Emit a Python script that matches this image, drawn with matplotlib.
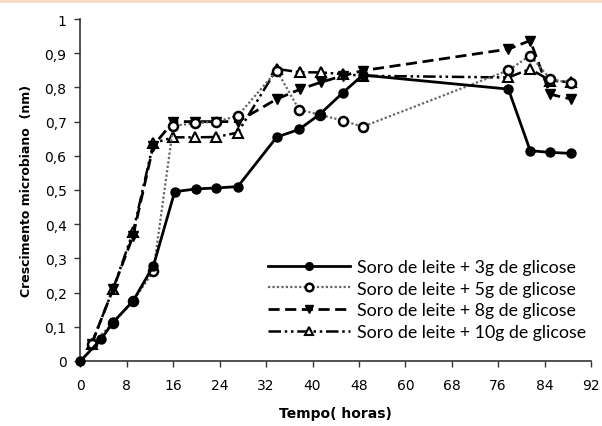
import matplotlib
matplotlib.use("Agg")
import matplotlib.pyplot as plt
from matplotlib.lines import Line2D

# x positions are in axis-category units (tick index), labels below
tick_labels = ["0", "8", "16", "24", "32", "40", "48", "60", "68", "76", "84", "92"]
y_tick_values = [0, 0.1, 0.2, 0.3, 0.4, 0.5, 0.6, 0.7, 0.8, 0.9, 1.0]
y_tick_labels = ["0", "0,1", "0,2", "0,3", "0,4", "0,5", "0,6", "0,7", "0,8", "0,9", "1"]

x_3g = [0, 0.45, 0.70, 1.13, 1.57, 2.03, 2.48, 2.93, 3.39, 4.23, 4.71, 5.16, 5.65, 6.08, 9.22, 9.69, 10.12, 10.57]
y_3g = [0, 0.065, 0.113, 0.175, 0.278, 0.495, 0.503, 0.506, 0.51, 0.655, 0.677, 0.722, 0.784, 0.836, 0.795, 0.615, 0.61, 0.607]

x_5g = [0.24, 0.70, 1.13, 1.57, 2.0, 2.46, 2.93, 3.39, 4.23, 4.71, 5.16, 5.65, 6.08, 9.22, 9.69, 10.12, 10.57]
y_5g = [0.05, 0.11, 0.175, 0.262, 0.688, 0.695, 0.70, 0.717, 0.849, 0.735, 0.72, 0.703, 0.685, 0.85, 0.893, 0.825, 0.812]

x_8g = [0.24, 0.70, 1.13, 1.57, 2.0, 2.46, 2.93, 3.39, 4.23, 4.74, 5.18, 5.65, 6.08, 9.22, 9.69, 10.12, 10.57]
y_8g = [0.05, 0.21, 0.365, 0.63, 0.70, 0.70, 0.70, 0.70, 0.766, 0.795, 0.815, 0.834, 0.849, 0.912, 0.937, 0.78, 0.766]

x_10g = [0.24, 0.70, 1.13, 1.57, 2.0, 2.46, 2.93, 3.39, 4.23, 4.74, 5.18, 5.65, 6.08, 9.22, 9.69, 10.12, 10.57]
y_10g = [0.05, 0.21, 0.376, 0.637, 0.654, 0.654, 0.655, 0.668, 0.854, 0.844, 0.844, 0.839, 0.834, 0.829, 0.854, 0.82, 0.815]

labels = ["Soro de leite + 3g de glicose",
          "Soro de leite + 5g de glicose",
          "Soro de leite + 8g de glicose",
          "Soro de leite + 10g de glicose"]

fig = plt.figure(figsize=(6.02, 4.27), dpi=100)
ax = fig.add_axes([80.5 / 602, 65 / 427, 510.5 / 602, 342 / 427])

ax.plot(x_3g, y_3g, color="black", lw=2.0, ls="-", marker="o", ms=6.5,
        mfc="black", mec="black", clip_on=False, zorder=5, label=labels[0])
ax.plot(x_5g, y_5g, color="#666666", lw=1.6, ls=(0, (1, 1)), marker="o", ms=6.5,
        mfc="white", mec="black", mew=1.8, clip_on=False, zorder=4, label=labels[1])
ax.plot(x_8g, y_8g, color="black", lw=2.0, ls=(0, (4, 2)), marker="v", ms=7,
        mfc="black", mec="black", clip_on=False, zorder=3, label=labels[2])
ax.plot(x_10g, y_10g, color="black", lw=1.8, ls=(0, (5, 1.5, 1, 1.5, 1, 1.5)), marker="^", ms=7,
        mfc="white", mec="black", mew=1.5, clip_on=False, zorder=2, label=labels[3])

ax.set_xlim(0, 11)
ax.set_ylim(0, 1)
ax.set_xticks(range(len(tick_labels)))
ax.set_xticklabels(tick_labels, fontsize=10)
ax.set_yticks(y_tick_values)
ax.set_yticklabels(y_tick_labels, fontsize=10)
ax.spines["top"].set_visible(False)
ax.spines["right"].set_visible(False)
for s in ("left", "bottom"):
    ax.spines[s].set_color("#333333")
    ax.spines[s].set_linewidth(1.2)
ax.tick_params(axis="both", direction="out", length=4, width=1.0, colors="#333333",
               labelcolor="black")
ax.tick_params(axis="x", pad=8)
ax.tick_params(axis="y", pad=6)

ax.set_xlabel("Tempo( horas)", fontsize=10, fontweight="bold", labelpad=10)
ax.set_ylabel("Crescimento microbiano  (nm)", fontsize=9, fontweight="bold", labelpad=8)

leg = ax.legend(loc="lower right", bbox_to_anchor=(0.997, 0.05), frameon=True,
                edgecolor="white", facecolor="white", framealpha=1.0,
                handlelength=4.6, labelspacing=0.33, markerscale=0.85,
                handletextpad=0.4, borderaxespad=0.0, borderpad=0.2,
                prop={"family": "Lato", "size": 12.8})
leg.set_zorder(10)

fig.add_artist(Line2D([0, 1], [1 - 1.5 / 427, 1 - 1.5 / 427], color="#f8d9c4",
                      lw=2, transform=fig.transFigure))

fig.savefig("out.png", dpi=100)
